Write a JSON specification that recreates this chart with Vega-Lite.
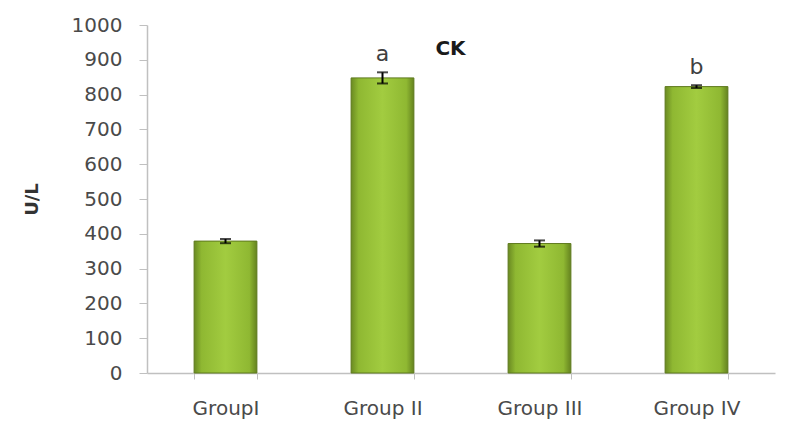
{
  "$schema": "https://vega.github.io/schema/vega-lite/v6.json",
  "width": 628,
  "height": 348,
  "autosize": {"type": "none"},
  "padding": {"left": 147, "top": 25, "right": 17, "bottom": 63},
  "background": "white",
  "config": {"view": {"stroke": null}, "font": "DejaVu Sans",
    "axisY": {"titleFontSize": 18, "titleFontWeight": "bold", "titleColor": "#333333", "titlePadding": 30, "titleFont": "DejaVu Sans",
      "labelFontSize": 20, "labelColor": "#4a4a4a", "labelPadding": 17, "grid": false, "labelOverlap": false, "labelFont": "DejaVu Sans",
      "domainColor": "#c0c0c0", "domainWidth": 1.5, "tickColor": "#c0c0c0", "tickSize": 8}},
  "data": {"values": [
    {"group": "GroupI", "value": 379, "err": 6, "letter": ""},
    {"group": "Group II", "value": 848, "err": 16, "letter": "a"},
    {"group": "Group III", "value": 372, "err": 9, "letter": ""},
    {"group": "Group IV", "value": 823, "err": 4, "letter": "b"}
  ]},
  "encoding": {
    "x": {"field": "group", "type": "nominal", "sort": null,
      "scale": {"paddingInner": 0.6, "paddingOuter": 0.3},
      "axis": {"title": null, "labelAngle": 0, "labelFontSize": 20, "labelColor": "#4a4a4a",
        "labelPadding": 19, "domainColor": "#c0c0c0", "domainWidth": 1.5, "tickColor": "#c0c0c0",
        "tickSize": 6, "tickBand": "extent", "labelFont": "DejaVu Sans"}}
  },
  "layer": [
    {
      "mark": {"type": "bar", "stroke": "#5f7a1e", "strokeWidth": 1,
        "color": {"gradient": "linear", "x1": 0, "x2": 1, "y1": 0, "y2": 0,
          "stops": [
            {"offset": 0, "color": "#6a8a22"},
            {"offset": 0.12, "color": "#8fb832"},
            {"offset": 0.5, "color": "#a2cc40"},
            {"offset": 0.88, "color": "#8fb832"},
            {"offset": 1, "color": "#65831f"}
          ]}},
      "encoding": {
        "y": {"field": "value", "type": "quantitative",
          "scale": {"domain": [0, 1000]},
          "axis": {"title": "U/L", "values": [0,100,200,300,400,500,600,700,800,900,1000], "format": "d"}}
      }
    },
    {
      "mark": {"type": "rule", "color": "black", "strokeWidth": 2},
      "encoding": {
        "y": {"field": "lo", "type": "quantitative", "axis": {"title": "U/L", "values": [0,100,200,300,400,500,600,700,800,900,1000], "format": "d"}},
        "y2": {"field": "hi"}
      },
      "transform": [{"calculate": "datum.value - datum.err", "as": "lo"}, {"calculate": "datum.value + datum.err", "as": "hi"}]
    },
    {
      "mark": {"type": "tick", "color": "black", "size": 11, "thickness": 2},
      "encoding": {"y": {"field": "lo", "type": "quantitative", "axis": {"title": "U/L", "values": [0,100,200,300,400,500,600,700,800,900,1000], "format": "d"}}},
      "transform": [{"calculate": "datum.value - datum.err", "as": "lo"}]
    },
    {
      "mark": {"type": "tick", "color": "black", "size": 11, "thickness": 2},
      "encoding": {"y": {"field": "hi", "type": "quantitative", "axis": {"title": "U/L", "values": [0,100,200,300,400,500,600,700,800,900,1000], "format": "d"}}},
      "transform": [{"calculate": "datum.value + datum.err", "as": "hi"}]
    },
    {
      "mark": {"type": "text", "fontSize": 22, "color": "#404040", "baseline": "alphabetic", "dy": -11, "font": "DejaVu Sans"},
      "encoding": {
        "y": {"field": "hi", "type": "quantitative", "axis": {"title": "U/L", "values": [0,100,200,300,400,500,600,700,800,900,1000], "format": "d"}},
        "text": {"field": "letter"}
      },
      "transform": [{"calculate": "datum.value + datum.err", "as": "hi"}]
    },
    {
      "data": {"values": [{"label": "CK", "pos": "Group II", "y": 930}]},
      "mark": {"type": "text", "fontSize": 20, "fontWeight": "bold", "color": "#1a1a1a", "dx": 68, "align": "center", "font": "DejaVu Sans"},
      "encoding": {
        "x": {"field": "pos", "type": "nominal"},
        "y": {"field": "y", "type": "quantitative", "axis": {"title": "U/L", "values": [0,100,200,300,400,500,600,700,800,900,1000], "format": "d"}},
        "text": {"field": "label"}
      }
    }
  ]
}
